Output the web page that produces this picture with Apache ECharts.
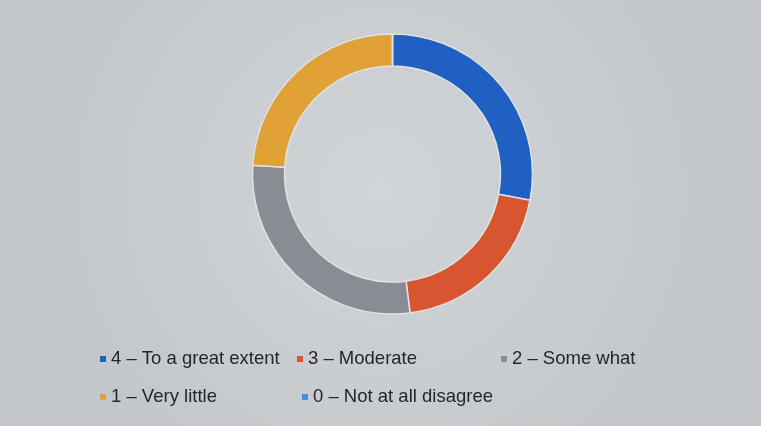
<!DOCTYPE html>
<html>
<head>
<meta charset="utf-8">
<script src="https://cdn.jsdelivr.net/npm/echarts@6/dist/echarts.min.js"></script>
<style>
  html, body { margin: 0; padding: 0; }
  #chart { width: 761px; height: 426px; }
</style>
</head>
<body>
<div id="chart"></div>
<script>
var categories = ['4 – To a great extent', '3 – Moderate', '2 – Some what', '1 – Very little', '0 – Not at all disagree'];
var shares = [28, 20, 28, 24, 0];
var colors = ['#1f60c2', '#d8562f', '#898c93', '#e0a137', '#4b8fd4'];

// legend placement, two rows like the original
var legendSpots = [
  { left: 100, top: 349 },
  { left: 297, top: 349 },
  { left: 501, top: 349 },
  { left: 100, top: 387 },
  { left: 302, top: 387 }
];

var chart = echarts.init(document.getElementById('chart'));

var legends = categories.map(function (name, i) {
  return {
    data: [name],
    left: legendSpots[i].left,
    top: legendSpots[i].top,
    icon: 'rect',
    itemWidth: 6,
    itemHeight: 6,
    padding: 0,
    selectedMode: false,
    itemStyle: { borderWidth: 0 },
    textStyle: {
      fontFamily: 'Liberation Sans',
      fontSize: 18.5,
      lineHeight: 20,
      color: '#25262b'
    }
  };
});

var option = {
  backgroundColor: {
    type: 'radial', x: 0.5, y: 0.45, r: 0.8,
    colorStops: [
      { offset: 0, color: '#d2d5d8' },
      { offset: 1, color: '#c3c6ca' }
    ]
  },
  color: colors,
  legend: legends,
  series: [
    {
      type: 'pie',
      center: [392.5, 174],
      radius: [108, 140],
      startAngle: 90,
      clockwise: true,
      label: { show: false },
      labelLine: { show: false },
      itemStyle: { borderColor: '#dfe1e3', borderWidth: 1.5 },
      emphasis: { disabled: true },
      data: categories.map(function (name, i) {
        return { name: name, value: shares[i] };
      })
    }
  ]
};

chart.setOption(option);
</script>
</body>
</html>
